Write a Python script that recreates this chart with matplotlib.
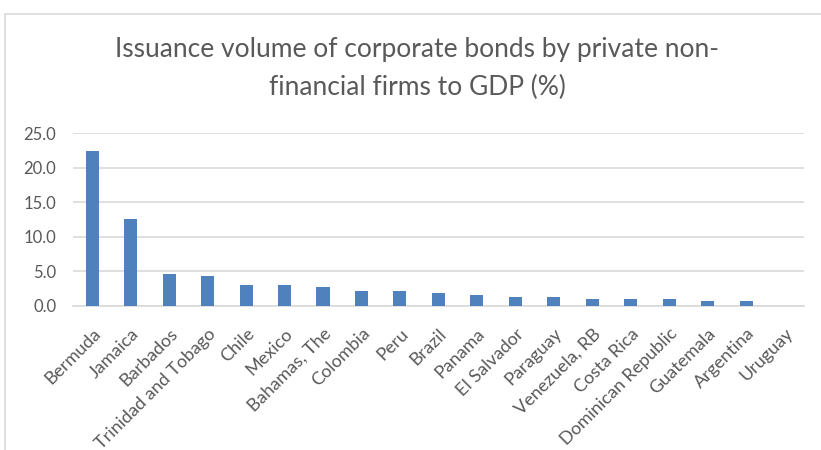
import matplotlib.pyplot as plt
from matplotlib.patches import Rectangle

# страны и объём выпуска облигаций (% ВВП)
countries = ['Bermuda', 'Jamaica', 'Barbados', 'Trinidad and Tobago', 'Chile',
             'Mexico', 'Bahamas, The', 'Colombia', 'Peru', 'Brazil', 'Panama',
             'El Salvador', 'Paraguay', 'Venezuela, RB', 'Costa Rica',
             'Dominican Republic', 'Guatemala', 'Argentina', 'Uruguay']
values = [22.4, 12.6, 4.6, 4.3, 3.1, 3.1, 2.8, 2.2, 2.2, 1.9, 1.6,
          1.3, 1.3, 1.0, 1.0, 1.0, 0.7, 0.7, 0.05]
yticks = [0, 5, 10, 15, 20, 25]

plt.rcParams['font.family'] = ['Lato', 'DejaVu Sans']

fig = plt.figure(figsize=(8.21, 4.5), dpi=100)
ax = fig.add_axes([0.0889, 0.32, 0.8901, 0.3844])

x = range(len(countries))
ax.bar(x, values, width=0.34, color='#4F81BD', zorder=3)

ax.set_xlim(-0.5, len(countries) - 0.5)
ax.set_ylim(0, 25)
ax.set_yticks(yticks)
ax.set_yticklabels(['%.1f' % v for v in yticks], fontsize=12, color='#595959')
ax.set_xticks(list(x))
ax.set_xticklabels(countries, rotation=45, ha='right', rotation_mode='anchor',
                   fontsize=13, color='#595959')
ax.tick_params(axis='x', length=0, pad=14)
ax.tick_params(axis='y', length=0, pad=12)

ax.grid(axis='y', color='#D9D9D9', linewidth=1.2, zorder=0)
for s in ['top', 'right', 'left']:
    ax.spines[s].set_visible(False)
ax.spines['bottom'].set_color('#D9D9D9')
ax.spines['bottom'].set_linewidth(1.2)

# заголовок в две строки
fig.text(0.508, 1 - 50 / 450, 'Issuance volume of corporate bonds by private non-',
         ha='center', va='center', fontsize=19, color='#595959')
fig.text(0.508, 1 - 87 / 450, 'financial firms to GDP (%)',
         ha='center', va='center', fontsize=19, color='#595959')

# рамка области диаграммы
fig.patches.append(Rectangle((5 / 821, -0.1), 1.0, 1.1 - 14 / 450,
                             transform=fig.transFigure, fill=False,
                             edgecolor='#D9D9D9', linewidth=1.2))

fig.savefig('out.png', dpi=100)
